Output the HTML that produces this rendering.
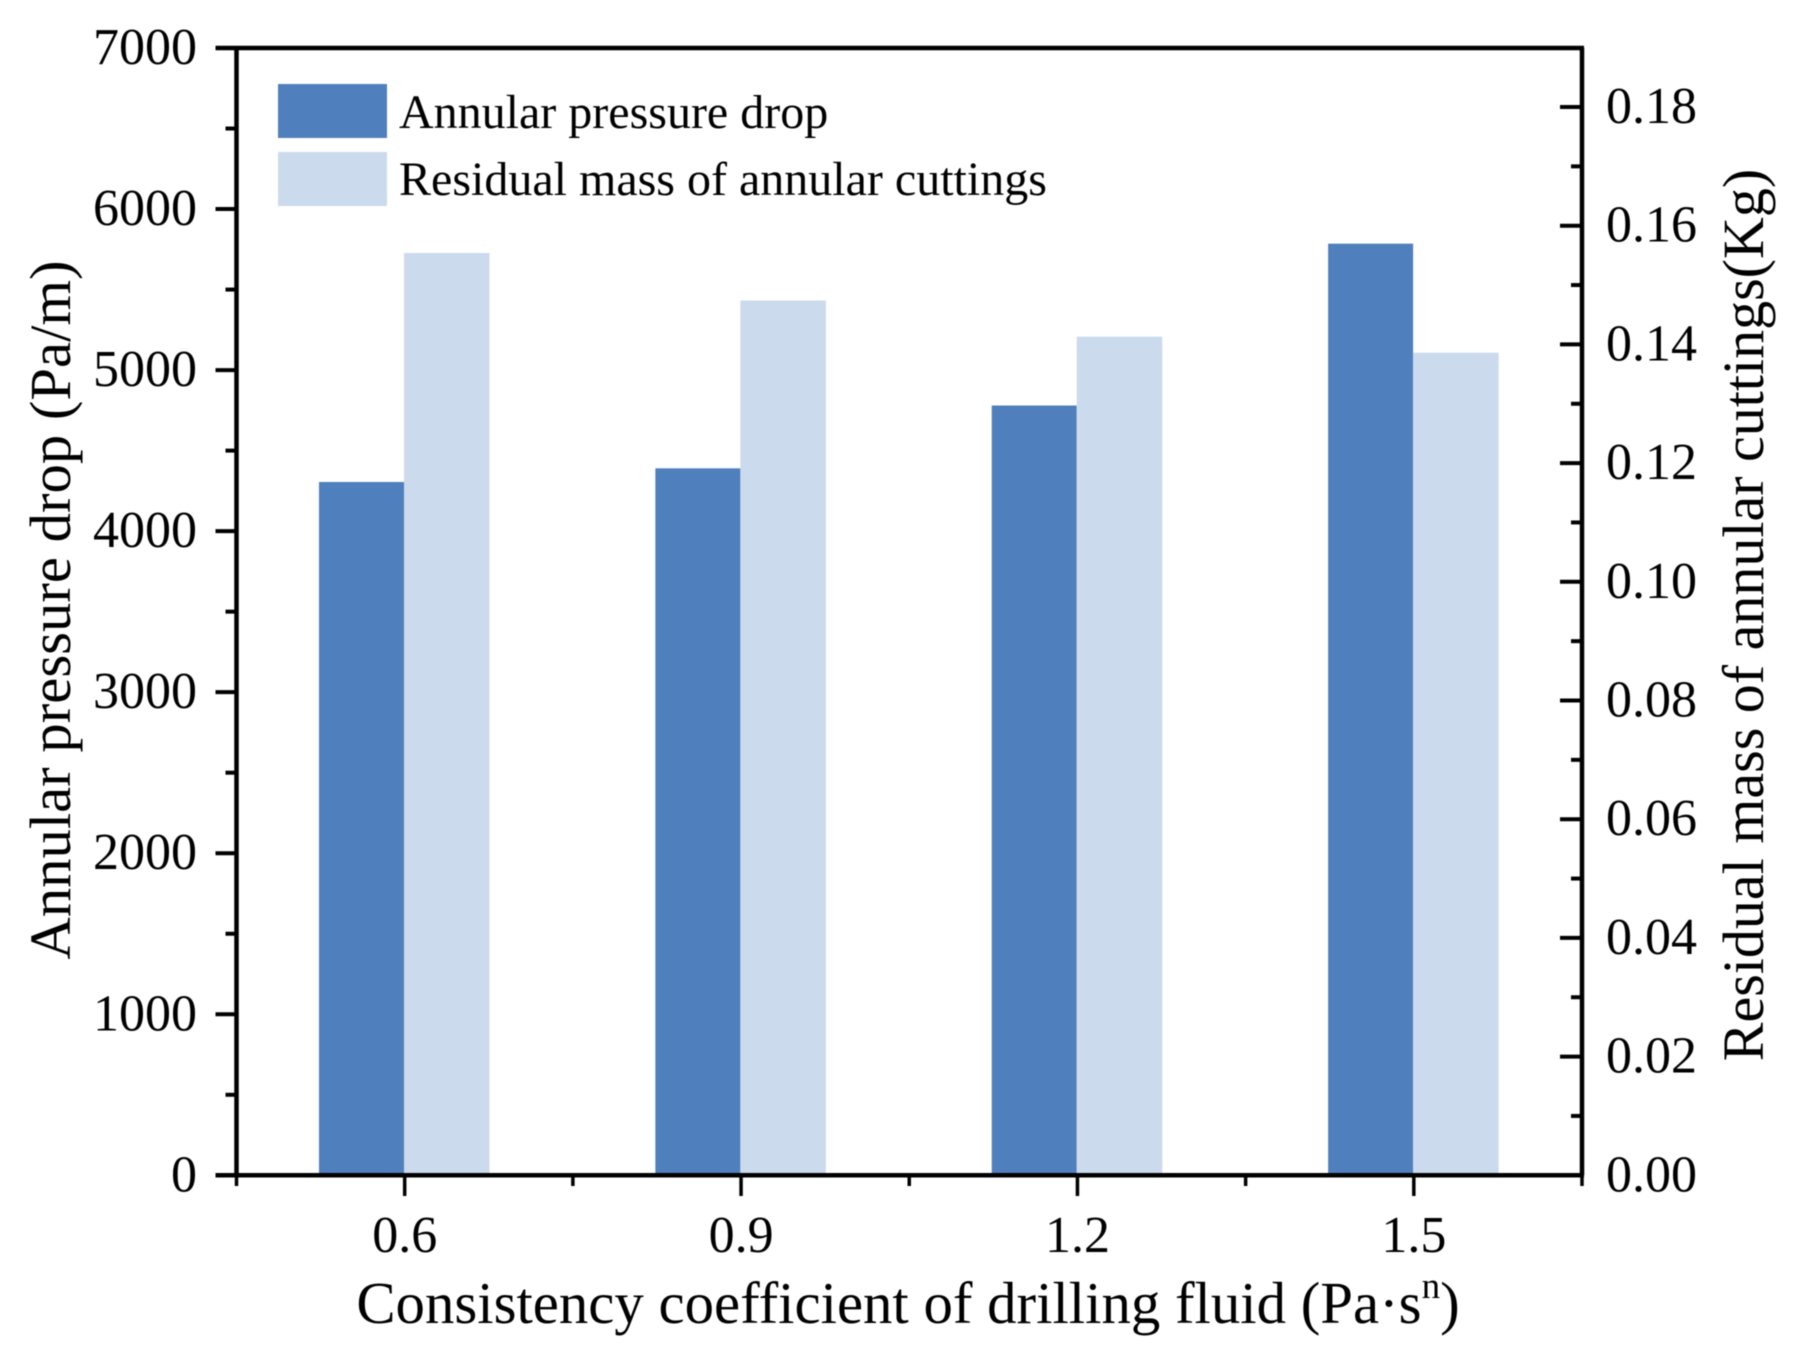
<!DOCTYPE html>
<html>
<head>
<meta charset="utf-8">
<title>Annular pressure drop and residual cuttings</title>
<style>
html,body{margin:0;padding:0;background:#fff;}
svg{display:block;filter:blur(0.5px);}
text{font-family:"Liberation Serif",serif;fill:#000;}
</style>
</head>
<body>
<svg id="chart" width="1795" height="1357" viewBox="0 0 1795 1357" xmlns="http://www.w3.org/2000/svg">
  <g id="bars"></g>
  <g id="axes"></g>
  <g>
    <rect x="278" y="84" width="109" height="54" fill="#4f7fbc"/>
    <text x="399" y="128" font-size="48">Annular pressure drop</text>
    <rect x="278" y="152" width="109" height="54" fill="#cbdaec"/>
    <text x="399" y="195" font-size="48">Residual mass of annular cuttings</text>
  </g>
  <text x="908" y="1323" font-size="58.8" text-anchor="middle">Consistency coefficient of drilling fluid (Pa·s<tspan font-size="37" dy="-25">n</tspan><tspan dy="25">)</tspan></text>
  <text transform="translate(70,610) rotate(-90)" font-size="58.7" text-anchor="middle">Annular pressure drop (Pa/m)</text>
  <text transform="translate(1763,615) rotate(-90)" font-size="58" text-anchor="middle">Residual mass of annular cuttings(Kg)</text>
</svg>
<script>
const categories = ["0.6", "0.9", "1.2", "1.5"];
const pressureDrop = [4305, 4390, 4780, 5785];
const residualMass = [0.1554, 0.1474, 0.1413, 0.1386];
const leftTicks = ["0", "1000", "2000", "3000", "4000", "5000", "6000", "7000"];
const rightTicks = ["0.00", "0.02", "0.04", "0.06", "0.08", "0.10", "0.12", "0.14", "0.16", "0.18"];

const NS = "http://www.w3.org/2000/svg";
const plot = { left: 236.5, right: 1582, top: 48, bottom: 1175.3 };
const leftMax = 7000;
const rightPxPerUnit = 118.7 / 0.02;
const barWidth = 85;
const axes = document.getElementById("axes");
const bars = document.getElementById("bars");

function yLeft(v) { return plot.bottom - (v / leftMax) * (plot.bottom - plot.top); }
function yRight(v) { return plot.bottom - v * rightPxPerUnit; }
function band() { return (plot.right - plot.left) / categories.length; }
function xCenter(i) { return plot.left + band() * (i + 0.5); }

function line(parent, x1, y1, x2, y2, w) {
  const l = document.createElementNS(NS, "line");
  l.setAttribute("x1", x1);
  l.setAttribute("y1", y1);
  l.setAttribute("x2", x2);
  l.setAttribute("y2", y2);
  l.setAttribute("stroke", "#000");
  l.setAttribute("stroke-width", w);
  parent.appendChild(l);
  return l;
}
function label(parent, x, y, str, anchor) {
  const t = document.createElementNS(NS, "text");
  t.setAttribute("x", x);
  t.setAttribute("y", y);
  t.setAttribute("font-size", "52");
  t.setAttribute("text-anchor", anchor);
  t.textContent = str;
  parent.appendChild(t);
  return t;
}

categories.forEach(function (c, i) {
  const cx = xCenter(i) - 0.7;
  const y1 = yLeft(pressureDrop[i]);
  const y2 = yRight(residualMass[i]);
  const d = document.createElementNS(NS, "rect");
  
  
  d.setAttribute("x", cx - barWidth);
  d.setAttribute("y", y1);
  d.setAttribute("width", barWidth);
  d.setAttribute("height", plot.bottom - y1);
  d.setAttribute("fill", "#4f7fbc");
  bars.appendChild(d);
  const r = document.createElementNS(NS, "rect");
  
  
  r.setAttribute("x", cx);
  r.setAttribute("y", y2);
  r.setAttribute("width", barWidth + 0.5);
  r.setAttribute("height", plot.bottom - y2);
  r.setAttribute("fill", "#cbdaec");
  bars.appendChild(r);
});

const frame = [
  [plot.left, plot.top, plot.left, plot.bottom, "left-axis-line"],
  [plot.left - 21, plot.top, plot.right + 2, plot.top, "top-axis-line"],
  [plot.right, plot.top, plot.right, plot.bottom, "right-axis-line"],
  [plot.left - 21, plot.bottom, plot.right + 2, plot.bottom, "bottom-axis-line"]
];
frame.forEach(function (f) {
  const l = line(axes, f[0], f[1], f[2], f[3], 4.5);
  
  
});

leftTicks.forEach(function (s, i) {
  const v = Number(s);
  const y = yLeft(v);
  const tick = line(axes, plot.left - 21, y, plot.left, y, 4);
  
  
  const t = label(axes, 197, y + 16, s, "end");
  
  
  if (i < leftTicks.length - 1) {
    const ym = yLeft((v + Number(leftTicks[i + 1])) / 2);
    const minor = line(axes, plot.left - 11, ym, plot.left, ym, 4);
    
    
  }
});

rightTicks.forEach(function (s, i) {
  const v = Number(s);
  const y = yRight(v);
  if (i > 0) {
    const tick = line(axes, plot.right - 22, y, plot.right, y, 4);
    
    
  }
  const t = label(axes, 1606, y + 16, s, "start");
  
  
  if (i < rightTicks.length - 1) {
    const ym = yRight((v + Number(rightTicks[i + 1])) / 2);
    const minor = line(axes, plot.right - 11, ym, plot.right, ym, 4);
    
    
  }
});

categories.forEach(function (c, i) {
  const cx = xCenter(i);
  const tick = line(axes, cx, plot.bottom, cx, 1196, 3.5);
  
  
  const t = label(axes, cx, 1252, c, "middle");
  
  
});
for (let i = 0; i <= categories.length; i++) {
  const x = plot.left + band() * i;
  const minor = line(axes, x, plot.bottom, x, 1186, 3.5);
  
  
}
</script>
</body>
</html>
